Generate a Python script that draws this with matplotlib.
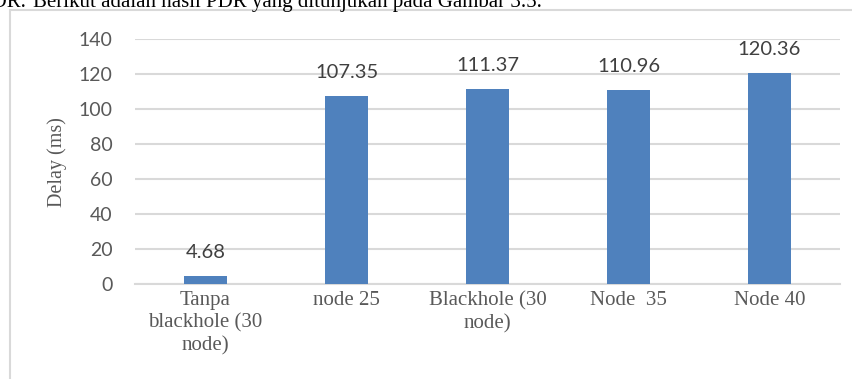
import matplotlib
matplotlib.use("Agg")
import matplotlib.pyplot as plt
from matplotlib.patches import Rectangle

categories = ["Tanpa\nblackhole (30\nnode)", "node 25", "Blackhole (30\nnode)", "Node  35", "Node 40"]
delay_ms = [4.68, 107.35, 111.37, 110.96, 120.36]
y_ticks = [0, 20, 40, 60, 80, 100, 120, 140]

W, H = 853, 379
fig = plt.figure(figsize=(W / 100, H / 100), dpi=100)
fig.patch.set_facecolor("white")

# chart frame (extends past right/bottom edges)
fig.add_artist(Rectangle((10 / W, -0.1), 1.2, 1.1 - 10 / H, transform=fig.transFigure,
                         fill=False, edgecolor="#d9d9d9", linewidth=1.5))

# running document text above the chart
serif = ["Liberation Serif", "DejaVu Serif"]
fig.text(26 / W, 1 - 7 / H, "PDR.", ha="right", va="baseline", fontsize=15,
         family=serif, color="black")
fig.text(33 / W, 1 - 7 / H, "Berikut adalah hasil PDR yang ditunjukan pada Gambar 3.5.",
         ha="left", va="baseline", fontsize=15, family=serif, color="black")

ax = fig.add_axes([135 / W, 1 - 284 / H, (840 - 135) / W, (284 - 39) / H])
x = list(range(len(categories)))
bars = ax.bar(x, delay_ms, width=0.31, color="#4f81bd", zorder=3)
ax.set_xlim(-0.5, len(categories) - 0.5)
ax.set_ylim(0, 140)
ax.set_yticks(y_ticks)
ax.set_yticklabels([str(t) for t in y_ticks], family=["Lato", "DejaVu Sans"],
                   fontsize=14, color="#595959")
ax.set_xticks(x)
ax.set_xticklabels(categories, family=serif, fontsize=15, color="#595959",
                   linespacing=1.25, va="top")
ax.tick_params(axis="y", length=0, pad=16)
ax.tick_params(axis="x", length=0, pad=5)
ax.grid(axis="y", color="#d9d9d9", linewidth=1.5, zorder=0)
for s in ["top", "right", "left"]:
    ax.spines[s].set_visible(False)
ax.spines["bottom"].set_color("#d9d9d9")
ax.spines["bottom"].set_linewidth(1.5)

for xi, v in zip(x, delay_ms):
    ax.annotate(f"{v:.2f}", (xi, v), xytext=(0, 13), textcoords="offset points",
                ha="center", va="baseline", fontsize=14.5, color="#404040",
                family=["Lato", "DejaVu Sans"])

fig.text(57 / W, 1 - 162 / H, "Delay (ms)", rotation=90, ha="center", va="center",
         fontsize=14.5, family=serif, color="#595959")

fig.savefig("out.png", dpi=100)
